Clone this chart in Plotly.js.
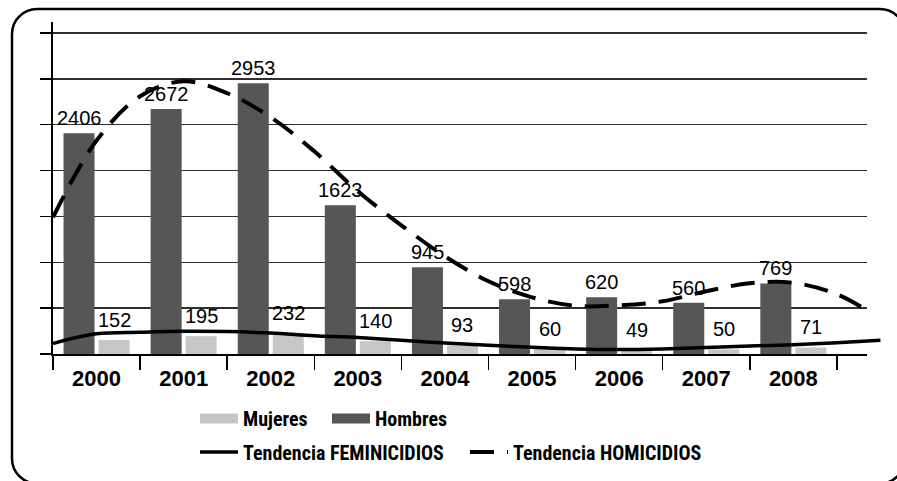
<!DOCTYPE html>
<html><head><meta charset="utf-8">
<script src="https://cdn.plot.ly/plotly-3.0.1.min.js"></script>
<style>html,body{margin:0;padding:0;background:#fff;overflow:hidden;width:897px;height:481px}#chart{width:897px;height:481px;overflow:hidden}</style>
</head><body><div id="chart"></div>
<script>
// ---- data ----
const years = ['2000','2001','2002','2003','2004','2005','2006','2007','2008'];
const mujeres = [152, 195, 232, 140, 93, 60, 49, 50, 71];
const hombres = [2406, 2672, 2953, 1623, 945, 598, 620, 560, 769];
// polynomial trend lines at half-category steps
const trendFemX = [-0.5, 0, 0.5, 1, 1.5, 2, 2.5, 3, 3.5, 4, 4.5, 5, 5.5, 6, 6.5, 7, 7.5, 8, 8.5, 9.0];
const trendFeminicidios = [115, 220, 237, 248, 244, 228, 200, 179, 149, 120, 95, 74, 55, 48, 55, 70, 87, 102, 124, 149];
const trendHomX = [-0.5, 0, 0.5, 1, 1.5, 2, 2.5, 3, 3.5, 4, 4.5, 5, 5.5, 6, 6.5, 7, 7.5, 8, 8.5, 8.9];
const trendHomicidios = [1490, 2328, 2810, 2973, 2843, 2581, 2210, 1774, 1403, 1065, 793, 618, 526, 531, 575, 684, 771, 776, 651, 444];
const seriesNames = ['Mujeres', 'Hombres', 'Tendencia FEMINICIDIOS', 'Tendencia HOMICIDIOS'];

// ---- layout geometry (pixels) ----
const W = 897, H = 481, L = 53, R = 15, T = 22, B = 127;
const PW = W - L - R, PH = H - T - B;
const mainRightPx = 867, catPx = 87.1;
const X = px => (px - L) / PW;
const Y = py => (H - B - py) / PH;
const yMax = 3620;

const cDark = '#565656', cLight = '#c6c6c6';
const labelFont = {family: 'Liberation Sans, Arial, sans-serif', size: 20, color: '#000'};
const legFont = {family: 'Roboto Condensed, DejaVu Sans Condensed, sans-serif', size: 20, color: '#000', weight: 'bold'};

const traces = [
  {type: 'bar', name: seriesNames[1], x: years, y: hombres, marker: {color: cDark}, showlegend: false, hoverinfo: 'skip'},
  {type: 'bar', name: seriesNames[0], x: years, y: mujeres, marker: {color: cLight}, showlegend: false, hoverinfo: 'skip'},
  // legend swatches for the two bar series
  {type: 'scatter', mode: 'lines', name: seriesNames[0], x: [null], y: [null], xaxis: 'x2', yaxis: 'y2',
   line: {color: cLight, width: 12}, legend: 'legend'},
  {type: 'scatter', mode: 'lines', name: seriesNames[1], x: [null], y: [null], xaxis: 'x2', yaxis: 'y2',
   line: {color: cDark, width: 12}, legend: 'legend'},
  {type: 'scatter', mode: 'lines', name: seriesNames[2], x: trendFemX, y: trendFeminicidios, xaxis: 'x2', yaxis: 'y2',
   line: {color: '#000', width: 3.5, shape: 'spline', smoothing: 1}, legend: 'legend2', hoverinfo: 'skip'},
  {type: 'scatter', mode: 'lines', name: seriesNames[3], x: trendHomX, y: trendHomicidios, xaxis: 'x2', yaxis: 'y2',
   line: {color: '#000', width: 4, dash: '24px,13px', shape: 'spline', smoothing: 1}, legend: 'legend2', hoverinfo: 'skip'}
];

// value labels above the bars
const annotations = [];
years.forEach((yr, i) => {
  annotations.push({x: i, y: hombres[i], xref: 'x', yref: 'y', text: String(hombres[i]), showarrow: false,
    yanchor: 'bottom', xshift: -17.5, yshift: 2, font: labelFont});
  annotations.push({x: i, y: mujeres[i], xref: 'x', yref: 'y', text: String(mujeres[i]), showarrow: false,
    yanchor: 'bottom', xshift: 17.5, yshift: 7, font: labelFont});
});

// rounded outer frame (runs past the right and bottom edges, as in the reference)
const fx0 = 12, fx1 = 905, fy0 = 9, fy1 = 483.5, rad = 25, k = 0.5523 * rad;
const pt = (px, py) => X(px).toFixed(5) + ',' + Y(py).toFixed(5);
const framePath = 'M' + pt(fx0 + rad, fy0) + ' L' + pt(fx1 - rad, fy0) +
  ' C' + pt(fx1 - rad + k, fy0) + ' ' + pt(fx1, fy0 + rad - k) + ' ' + pt(fx1, fy0 + rad) +
  ' L' + pt(fx1, fy1 - rad) +
  ' C' + pt(fx1, fy1 - rad + k) + ' ' + pt(fx1 - rad + k, fy1) + ' ' + pt(fx1 - rad, fy1) +
  ' L' + pt(fx0 + rad, fy1) +
  ' C' + pt(fx0 + rad - k, fy1) + ' ' + pt(fx0, fy1 - rad + k) + ' ' + pt(fx0, fy1 - rad) +
  ' L' + pt(fx0, fy0 + rad) +
  ' C' + pt(fx0, fy0 + rad - k) + ' ' + pt(fx0 + rad - k, fy0) + ' ' + pt(fx0 + rad, fy0) + ' Z';

const legCommon = {orientation: 'h', xanchor: 'left', yanchor: 'middle', font: legFont,
  bgcolor: 'rgba(0,0,0,0)', traceorder: 'normal', itemwidth: 38, entrywidthmode: 'pixels'};

const layout = {
  width: W, height: H,
  margin: {l: L, r: R, t: T, b: B, pad: 0, autoexpand: false},
  paper_bgcolor: '#fff', plot_bgcolor: 'rgba(0,0,0,0)',
  barmode: 'group', bargap: 0.196, bargroupgap: 0.114,
  xaxis: {type: 'category', domain: [0, X(mainRightPx)], range: [-0.5, -0.5 + (mainRightPx - L) / catPx],
    tickson: 'boundaries', ticks: 'outside', ticklen: 14, tickwidth: 1.5, tickcolor: '#000',
    showline: true, linecolor: '#000', linewidth: 2, showgrid: false, zeroline: false, ticklabelstandoff: 4,
    tickfont: {family: 'Liberation Sans, Arial, sans-serif', size: 22, color: '#000', weight: 'bold'}},
  yaxis: {range: [0, yMax], tick0: 0, dtick: 500, showgrid: true, gridcolor: '#2e2e2e', gridwidth: 1.4,
    ticks: 'outside', ticklen: 11, tickwidth: 1.5, tickcolor: '#000', showticklabels: false,
    showline: true, linecolor: '#000', linewidth: 2, zeroline: false},
  xaxis2: {domain: [0, 1], range: [-0.5, -0.5 + PW / catPx], anchor: 'y2', visible: false},
  yaxis2: {domain: [0, 1], range: [0, yMax], anchor: 'x2', visible: false},
  legend: Object.assign({}, legCommon, {x: X(195), y: Y(418.5), entrywidth: 79}),
  legend2: Object.assign({}, legCommon, {x: X(195), y: Y(452), entrywidth: 217}),
  annotations: annotations,
  shapes: [{type: 'path', xref: 'paper', yref: 'paper', path: framePath, line: {color: '#000', width: 2.5}, layer: 'above'}],
  showlegend: true
};

Plotly.newPlot('chart', traces, layout, {staticPlot: true, displayModeBar: false});
</script>
</body></html>
